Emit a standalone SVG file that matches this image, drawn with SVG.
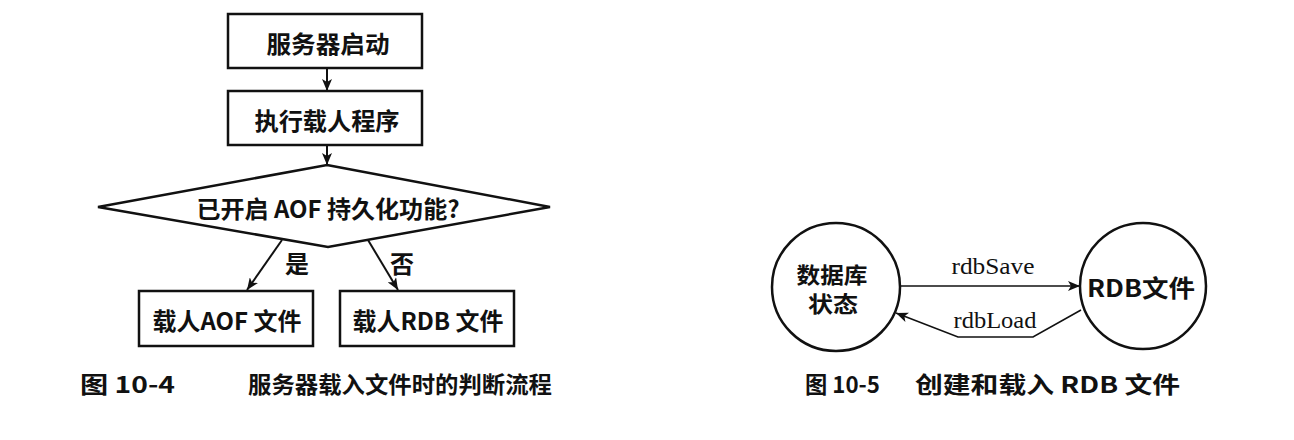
<svg xmlns="http://www.w3.org/2000/svg" width="1294" height="440" viewBox="0 0 1294 440">
<style>
.bg{fill:#fff}
.node{fill:#fff;stroke:#111;stroke-width:2.5}
.conn{fill:none;stroke:#111;stroke-width:2}
.thin{fill:none;stroke:#111;stroke-width:1.6}
.t{font-family:"Noto Sans CJK SC","Liberation Sans",sans-serif;font-size:24px;font-weight:bold;fill:#111;text-anchor:middle;dominant-baseline:central}
.lat{font-family:"Liberation Serif","Noto Sans CJK SC",serif;font-size:24px;fill:#111;text-anchor:middle;dominant-baseline:central}
.cap{font-family:"Noto Sans CJK SC","Liberation Sans",sans-serif;font-size:23px;font-weight:bold;fill:#111;dominant-baseline:central}
</style>
<defs>
<marker id="ah" viewBox="0 0 12 10" refX="12" refY="5" markerWidth="12" markerHeight="10" markerUnits="userSpaceOnUse" orient="auto">
<path d="M0,0 L12,5 L0,10 L3,5 Z" fill="#111"/>
</marker>
</defs>
<rect class="bg" x="0" y="0" width="1294" height="440"/>
<g id="connectors">
<line class="conn" x1="327" y1="68" x2="327" y2="91" marker-end="url(#ah)"/>
<line class="conn" x1="327" y1="145" x2="327" y2="165" marker-end="url(#ah)"/>
<line class="conn" x1="282" y1="240" x2="247" y2="290" marker-end="url(#ah)"/>
<line class="conn" x1="368" y1="240" x2="398" y2="290" marker-end="url(#ah)"/>
<line class="thin" x1="900" y1="286" x2="1080" y2="286" marker-end="url(#ah)"/>
<polyline class="thin" points="1081,310 1033,337 958,337 896,313" marker-end="url(#ah)"/>
</g>
<g id="n-start">
<rect class="node" x="228" y="14" width="194" height="54"/>
<text class="t" x="328" y="42" textLength="123" lengthAdjust="spacingAndGlyphs">服务器启动</text>
</g>
<g id="n-load">
<rect class="node" x="228" y="91" width="194" height="54"/>
<text class="t" x="327" y="119" textLength="145" lengthAdjust="spacingAndGlyphs">执行载人程序</text>
</g>
<g id="n-decision">
<polygon class="node" points="327,165 550,207 328,247 98,207"/>
<text class="t" x="328" y="207" textLength="263" lengthAdjust="spacingAndGlyphs">已开启 AOF 持久化功能?</text>
</g>
<g id="l-yes"><text class="t" x="297" y="262">是</text></g>
<g id="l-no"><text class="t" x="402" y="262">否</text></g>
<g id="n-aof">
<rect class="node" x="139" y="291" width="174" height="55"/>
<text class="t" x="227" y="319" textLength="149" lengthAdjust="spacingAndGlyphs">载人AOF 文件</text>
</g>
<g id="n-rdb">
<rect class="node" x="340" y="291" width="174" height="55"/>
<text class="t" x="428" y="319" textLength="151" lengthAdjust="spacingAndGlyphs">载人RDB 文件</text>
</g>
<g id="cap1">
<text class="cap" x="80" y="383" textLength="95" lengthAdjust="spacingAndGlyphs">图 10-4</text>
<text class="cap" x="248" y="383" textLength="304" lengthAdjust="spacingAndGlyphs">服务器载入文件时的判断流程</text>
</g>
<g id="n-db">
<circle class="node" cx="836" cy="287" r="64"/>
<text class="t" x="832" y="273" style="font-size:22px" textLength="71" lengthAdjust="spacingAndGlyphs">数据库</text>
<text class="t" x="833" y="302" style="font-size:22px" textLength="50" lengthAdjust="spacingAndGlyphs">状态</text>
</g>
<g id="n-rdbfile">
<circle class="node" cx="1143" cy="286" r="63"/>
<text class="t" x="1141" y="286" textLength="108" lengthAdjust="spacingAndGlyphs">RDB文件</text>
</g>
<g id="l-save"><text class="lat" x="993" y="266" textLength="83" lengthAdjust="spacingAndGlyphs">rdbSave</text></g>
<g id="l-load"><text class="lat" x="995" y="320" textLength="83" lengthAdjust="spacingAndGlyphs">rdbLoad</text></g>
<g id="cap2">
<text class="cap" x="805" y="383" textLength="75" lengthAdjust="spacingAndGlyphs">图 10-5</text>
<text class="cap" x="915" y="383" textLength="265" lengthAdjust="spacingAndGlyphs">创建和载入 RDB 文件</text>
</g>
</svg>
